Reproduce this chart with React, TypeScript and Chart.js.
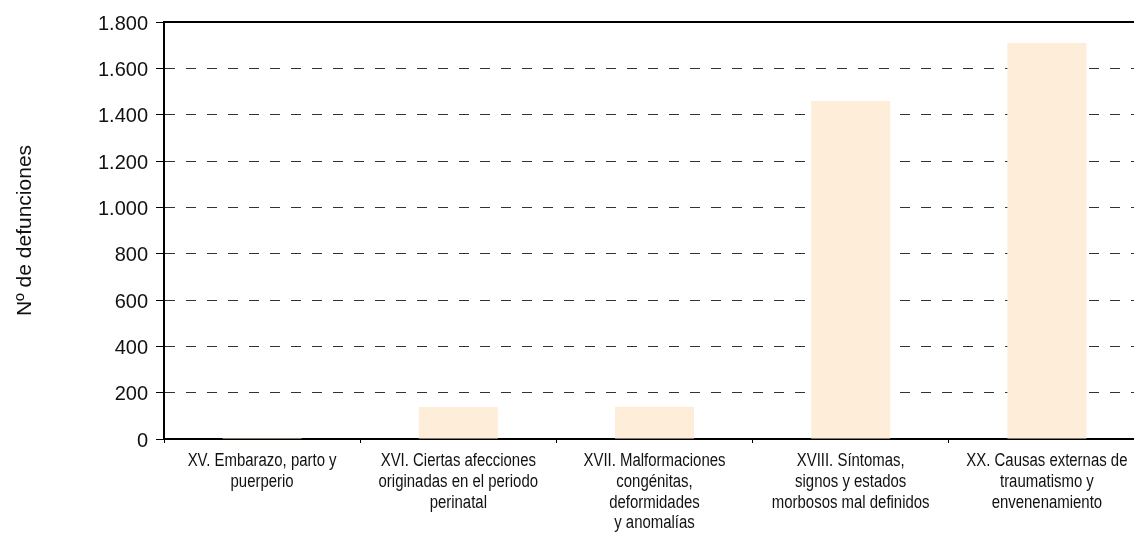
import React, { useEffect, useRef } from "react";
import { Chart, registerables } from "chart.js";

Chart.register(...registerables);

const categories: string[][] = [
  ["XV. Embarazo, parto y", "puerperio"],
  ["XVI. Ciertas afecciones", "originadas en el periodo", "perinatal"],
  ["XVII. Malformaciones", "congénitas,", "deformidades", "y anomalías"],
  ["XVIII. Síntomas,", "signos y estados", "morbosos mal definidos"],
  ["XX. Causas externas de", "traumatismo y", "envenenamiento"],
];

const defunciones: number[] = [5, 138, 139, 1459, 1709];

const yMin = 0;
const yMax = 1800;
const yStep = 200;
const yTitle = "Nº de defunciones";

const fmt = (v: number) => String(v).replace(/\B(?=(\d{3})+(?!\d))/g, ".");

const topBorder = {
  id: "topBorder",
  afterDraw(chart: any) {
    const { ctx, chartArea } = chart;
    ctx.save();
    ctx.strokeStyle = "#000";
    ctx.lineWidth = 2;
    ctx.beginPath();
    ctx.moveTo(chartArea.left - 1, chartArea.top);
    ctx.lineTo(chartArea.right, chartArea.top);
    ctx.stroke();
    ctx.restore();
  },
};

// Condensed (narrow) category labels drawn under each category of the x scale
const narrowXLabels = {
  id: "narrowXLabels",
  afterDraw(chart: any) {
    const { ctx } = chart;
    const x = chart.scales.x;
    const labels = chart.data.labels as string[][];
    ctx.save();
    ctx.font = "18px 'Liberation Sans', Arial, sans-serif";
    ctx.fillStyle = "#111";
    ctx.textAlign = "center";
    ctx.textBaseline = "alphabetic";
    labels.forEach((lines, i) => {
      const cx = x.getPixelForValue(i);
      lines.forEach((ln, j) => {
        ctx.save();
        ctx.translate(cx, x.top + 27 + j * 20.8);
        ctx.scale(0.83, 1);
        ctx.fillText(ln, 0, 0);
        ctx.restore();
      });
    });
    ctx.restore();
  },
};

export default function App() {
  const ref = useRef<HTMLCanvasElement | null>(null);

  useEffect(() => {
    if (!ref.current) return;
    const chart = new Chart(ref.current, {
      type: "bar",
      data: {
        labels: categories,
        datasets: [
          {
            data: defunciones,
            backgroundColor: "#FDEDD9",
            borderWidth: 0,
            barPercentage: 0.403,
            categoryPercentage: 1,
          },
        ],
      },
      options: {
        animation: false,
        responsive: true,
        maintainAspectRatio: false,
        layout: { padding: { left: 0, top: 22, right: 15, bottom: 0 } },
        plugins: {
          legend: { display: false },
          tooltip: { enabled: false },
        },
        scales: {
          x: {
            grid: {
              display: true,
              drawOnChartArea: false,
              drawTicks: true,
              tickLength: 4,
              tickColor: "#000",
              tickWidth: 1,
              offset: true,
            },
            border: { display: true, color: "#000", width: 2 },
            ticks: { display: false },
            afterFit: (s: any) => {
              s.height = 95;
            },
          },
          y: {
            min: yMin,
            max: yMax,
            grid: {
              color: "#333",
              lineWidth: 1,
              drawTicks: true,
              tickLength: 8,
              tickColor: "#000",
              tickWidth: 1,
              tickBorderDash: [],
            },
            border: { display: true, color: "#000", width: 2, dash: [10, 11] },
            ticks: {
              stepSize: yStep,
              color: "#111",
              padding: 8,
              labelOffset: 2,
              font: { family: "'Liberation Sans', Arial, sans-serif", size: 20 },
              callback: (v: any) => fmt(Number(v)),
            },
            title: {
              display: true,
              text: yTitle,
              color: "#111",
              padding: { top: 13, bottom: 0 },
              font: { family: "'Liberation Sans', Arial, sans-serif", size: 21 },
            },
            afterFit: (s: any) => {
              s.width = 164;
            },
          },
        },
      },
      plugins: [topBorder, narrowXLabels],
    });
    return () => chart.destroy();
  }, []);

  return (
    <div
      style={{
        position: "absolute",
        left: 0,
        top: 0,
        width: 1134,
        height: 534,
        overflow: "hidden",
        background: "#fff",
      }}
    >
      <div style={{ position: "relative", width: 1160, height: 534 }}>
        <canvas ref={ref} />
      </div>
    </div>
  );
}
